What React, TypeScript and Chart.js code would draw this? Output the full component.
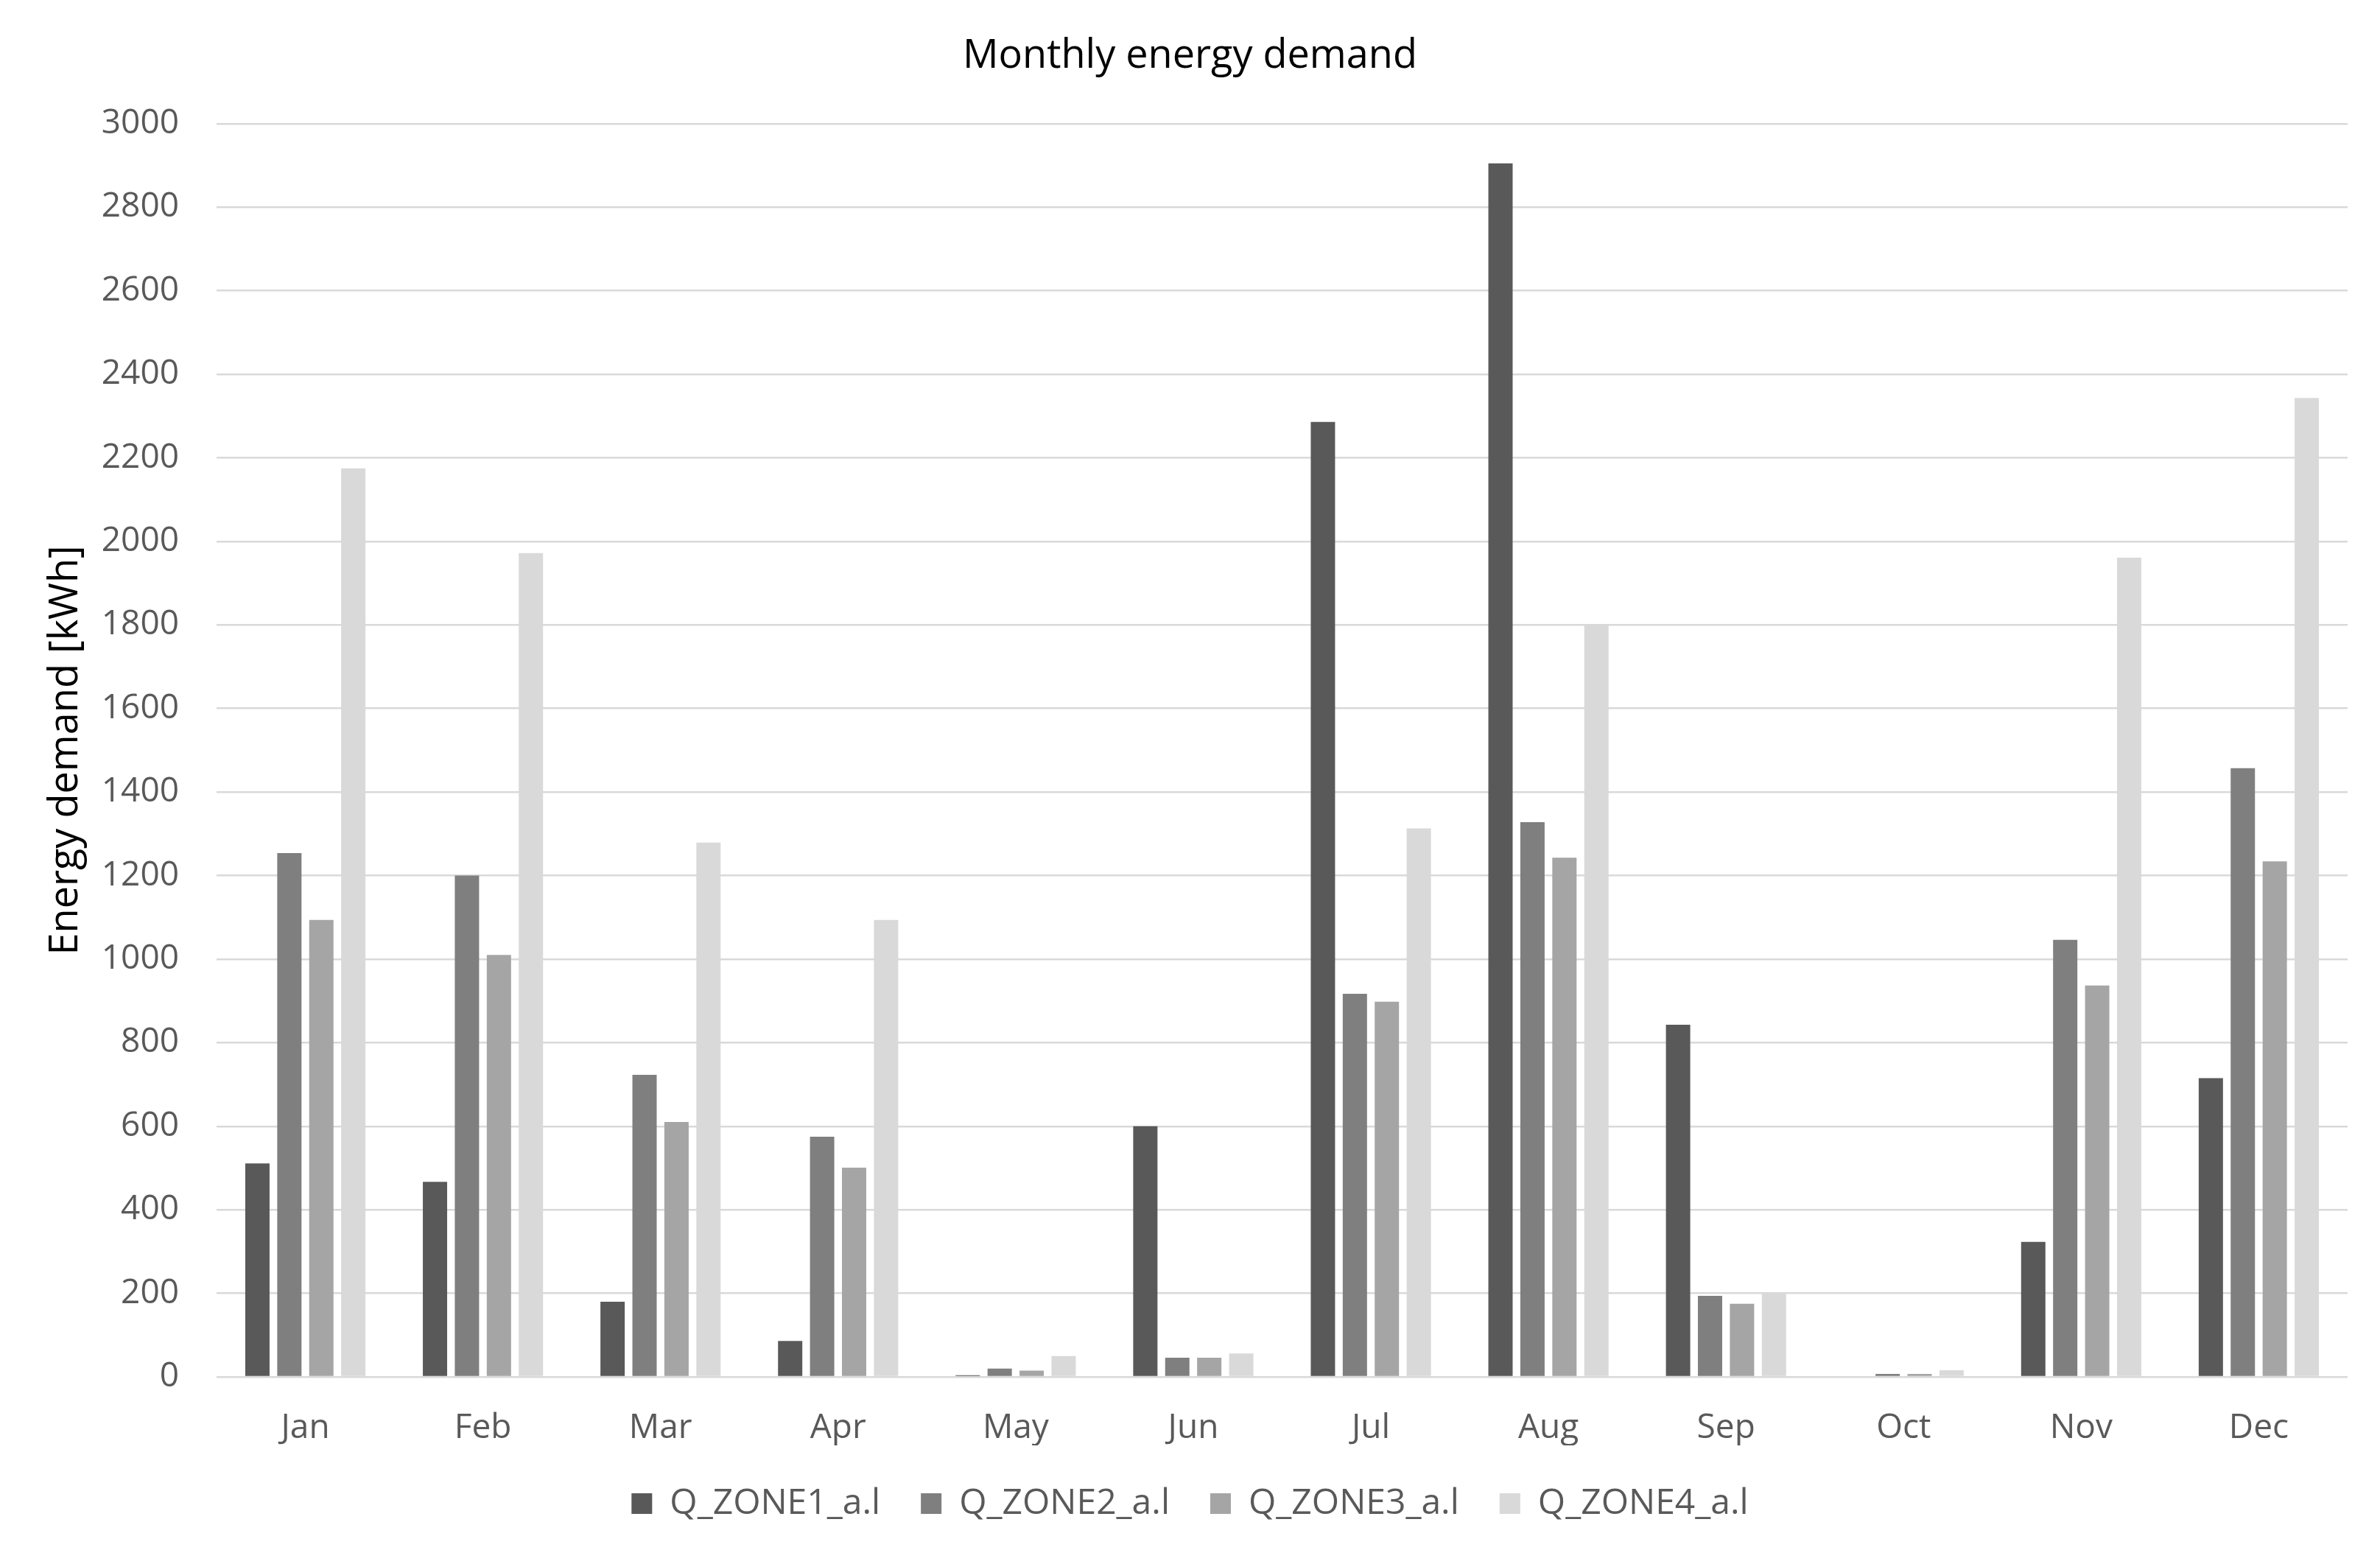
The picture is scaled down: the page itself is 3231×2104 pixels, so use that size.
import React, { useEffect, useRef } from "react";
import { Chart, registerables } from "chart.js";

Chart.register(...registerables);

const months = ["Jan", "Feb", "Mar", "Apr", "May", "Jun", "Jul", "Aug", "Sep", "Oct", "Nov", "Dec"];
const zone1 = [511, 467, 180, 86, 4, 600, 2286, 2905, 843, 0, 323, 715];
const zone2 = [1254, 1200, 723, 575, 20, 46, 917, 1328, 194, 7, 1046, 1457];
const zone3 = [1094, 1010, 610, 501, 15, 46, 898, 1243, 175, 7, 937, 1234];
const zone4 = [2175, 1972, 1279, 1094, 50, 56, 1313, 1802, 200, 16, 1961, 2343];
const seriesNames = ["Q_ZONE1_a.l", "Q_ZONE2_a.l", "Q_ZONE3_a.l", "Q_ZONE4_a.l"];
const seriesColors = ["#595959", "#7f7f7f", "#a5a5a5", "#d9d9d9"];
const yMin = 0;
const yMax = 3000;
const yStep = 200;
const chartTitle = "Monthly energy demand";
const yAxisTitle = "Energy demand [kWh]";

const W = 3231;
const H = 2104;

export default function App() {
  const ref = useRef<HTMLCanvasElement | null>(null);

  useEffect(() => {
    document.body.style.margin = "0";
    document.body.style.overflow = "hidden";
    const canvas = ref.current;
    if (!canvas) return;
    const values = [zone1, zone2, zone3, zone4];
    const chart = new Chart(canvas, {
      type: "bar",
      data: {
        labels: months,
        datasets: values.map((v, i) => ({
          label: seriesNames[i],
          data: v,
          backgroundColor: seriesColors[i],
          borderWidth: 0,
          categoryPercentage: 0.72,
          barPercentage: 0.76,
        })),
      },
      options: {
        animation: false,
        responsive: false,
        maintainAspectRatio: false,
        layout: { padding: { top: 0, left: 44, right: 44, bottom: 29 } },
        plugins: {
          tooltip: { enabled: false },
          title: {
            display: true,
            text: chartTitle,
            color: "#000000",
            font: { family: "'Open Sans'", size: 54, weight: "normal" },
            padding: { top: 44, bottom: 59 },
          },
          legend: {
            display: true,
            position: "bottom",
            labels: {
              boxWidth: 28,
              boxHeight: 28,
              padding: 55,
              color: "#595959",
              font: { family: "'Open Sans'", size: 48 },
            },
          },
        },
        scales: {
          x: {
            grid: { display: false, drawTicks: false },
            border: { display: false },
            ticks: {
              color: "#595959",
              padding: 42,
              font: { family: "'Open Sans'", size: 46 },
              maxRotation: 0,
            },
            afterFit: (scale: any) => {
              scale.height = 93;
            },
          },
          y: {
            min: yMin,
            max: yMax,
            grid: { color: "#d9d9d9", lineWidth: 2.5, drawTicks: false },
            border: { display: false },
            ticks: {
              stepSize: yStep,
              color: "#595959",
              padding: 51,
              font: { family: "'Open Sans'", size: 46 },
              callback: (v: any) => String(v),
            },
            title: {
              display: true,
              text: yAxisTitle,
              color: "#000000",
              font: { family: "'Open Sans'", size: 54, weight: "normal" },
              padding: { top: 13, bottom: 0 },
            },
            afterFit: (scale: any) => {
              scale.width = 250;
            },
          },
        },
      } as any,
    });
    return () => chart.destroy();
  }, []);

  return (
    <div style={{ width: W, height: H, background: "#ffffff" }}>
      <canvas ref={ref} width={W} height={H} style={{ width: W, height: H, display: "block" }} />
    </div>
  );
}
